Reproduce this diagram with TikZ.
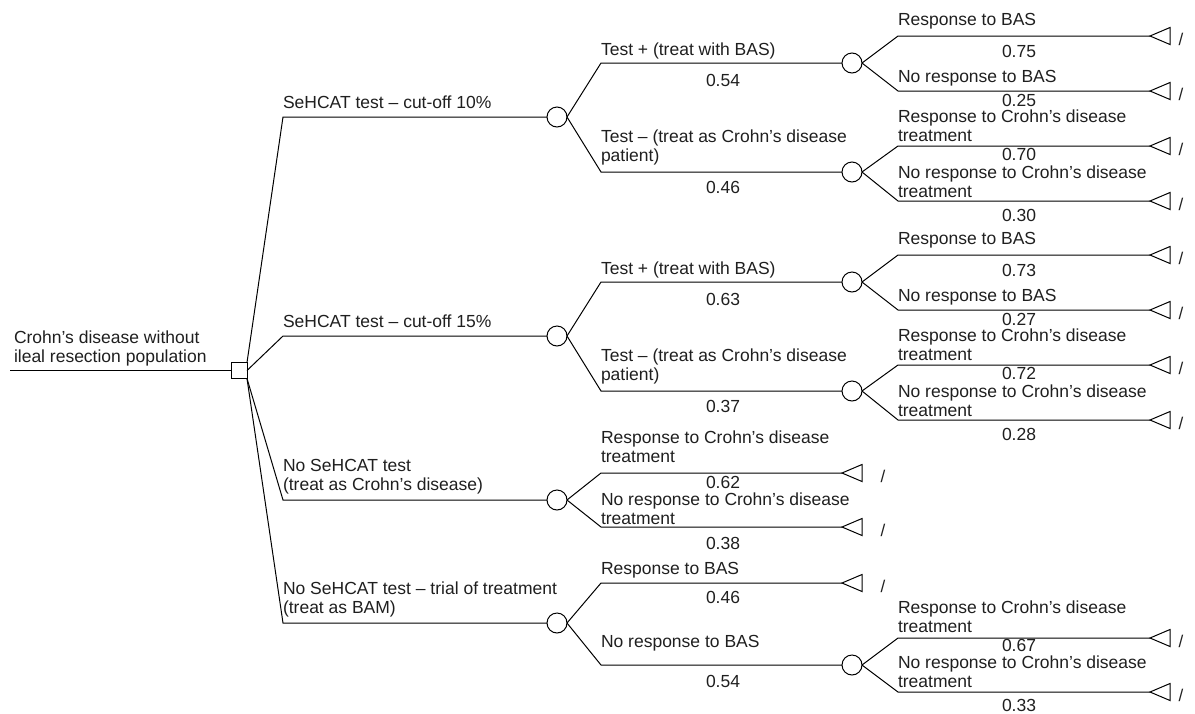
\documentclass[tikz,border=0pt]{standalone}
\usepackage{fontspec}
\setmainfont{Liberation Sans}
\newcommand\twoline[2]{\begin{tabular}[t]{@{}l@{}}#1\\#2\end{tabular}}
\tikzset{
  lbl/.style={anchor=base west, inner sep=0pt, outer sep=0pt, text=black!88,
    font=\fontsize{17.5}{19}\selectfont},
  prob/.style={lbl},
  slashlbl/.style={anchor=base west, inner sep=0pt, text=black!88,
    font=\fontsize{17}{19}\selectfont},
  chance/.style={circle, draw, minimum size=20pt, inner sep=0pt, outer sep=0pt},
  decision/.style={rectangle, draw, minimum size=16pt, inner sep=0pt, outer sep=0pt},
  term/.pic={\draw (0,0) -- (20,-8.5) -- (20,8.5) -- cycle;}
}
\begin{document}
\begin{tikzpicture}[x=1pt,y=-1pt,line width=1pt]
\useasboundingbox (0,0) rectangle (1195,713);

% root
\coordinate (r0) at (10,370.5);
\node[decision] (sq) at (239,370.5) {};
\draw (r0) -- (sq);
\node[lbl] (rootlbl) at (14,343) {\twoline{Crohn’s disease without}{ileal resection population}};

% level 1 chance nodes
\node[chance] (c1) at (557,117) {};
\node[chance] (c2) at (557,336) {};
\node[chance] (c3) at (557,500) {};
\node[chance] (c4) at (557,623) {};
\draw (sq.north east) -- (283,117) -- (c1);
\draw (sq.east) -- (283,336) -- (c2);
\draw (sq.south east) -- (283,500) -- (c3);
\draw (sq.south east) -- (283,623) -- (c4);
\node[lbl] (l1) at (283,108) {SeHCAT test – cut-off 10\%};
\node[lbl] (l2) at (283,327) {SeHCAT test – cut-off 15\%};
\node[lbl] (l3) at (283,471) {\twoline{No SeHCAT test}{(treat as Crohn’s disease)}};
\node[lbl] (l4) at (283,594) {\twoline{No SeHCAT test – trial of treatment}{(treat as BAM)}};

% ---------- group 1 ----------
\node[chance] (c11) at (852,63) {};
\node[chance] (c12) at (852,172) {};
\draw (c1.east) -- (601,63) -- (c11);
\draw (c1.east) -- (601,172) -- (c12);
\node[lbl] (g1a) at (601,55) {Test + (treat with BAS)};
\node[prob] (p1a) at (706,86) {0.54};
\node[lbl] (g1b) at (601,142) {\twoline{Test – (treat as Crohn’s disease}{patient)}};
\node[prob] (p1b) at (706,193) {0.46};

\coordinate (t111) at (1150,36);
\coordinate (t112) at (1150,91);
\coordinate (t121) at (1150,146);
\coordinate (t122) at (1150,201);
\draw (c11.east) -- (898,36) -- (t111);
\draw (c11.east) -- (898,91) -- (t112);
\draw (c12.east) -- (898,146) -- (t121);
\draw (c12.east) -- (898,201) -- (t122);
\pic at (t111) {term}; \pic at (t112) {term};
\pic at (t121) {term}; \pic at (t122) {term};
\node[slashlbl] (s111) at (1178,45) {/};
\node[slashlbl] (s112) at (1178,100) {/};
\node[slashlbl] (s121) at (1178,155) {/};
\node[slashlbl] (s122) at (1178,210) {/};
\node[lbl] (e111) at (898,25) {Response to BAS};
\node[prob] (q111) at (1002,57) {0.75};
\node[lbl] (e112) at (898,82) {No response to BAS};
\node[prob] (q112) at (1002,106) {0.25};
\node[lbl] (e121) at (898,122) {\twoline{Response to Crohn’s disease}{treatment}};
\node[prob] (q121) at (1002,160) {0.70};
\node[lbl] (e122) at (898,178) {\twoline{No response to Crohn’s disease}{treatment}};
\node[prob] (q122) at (1002,221) {0.30};

% ---------- group 2 ----------
\node[chance] (c21) at (852,282) {};
\node[chance] (c22) at (852,391) {};
\draw (c2.east) -- (601,282) -- (c21);
\draw (c2.east) -- (601,391) -- (c22);
\node[lbl] (g2a) at (601,274) {Test + (treat with BAS)};
\node[prob] (p2a) at (706,305) {0.63};
\node[lbl] (g2b) at (601,361) {\twoline{Test – (treat as Crohn’s disease}{patient)}};
\node[prob] (p2b) at (706,412) {0.37};

\coordinate (t211) at (1150,255);
\coordinate (t212) at (1150,310);
\coordinate (t221) at (1150,365);
\coordinate (t222) at (1150,420);
\draw (c21.east) -- (898,255) -- (t211);
\draw (c21.east) -- (898,310) -- (t212);
\draw (c22.east) -- (898,365) -- (t221);
\draw (c22.east) -- (898,420) -- (t222);
\pic at (t211) {term}; \pic at (t212) {term};
\pic at (t221) {term}; \pic at (t222) {term};
\node[slashlbl] (s211) at (1178,264) {/};
\node[slashlbl] (s212) at (1178,319) {/};
\node[slashlbl] (s221) at (1178,374) {/};
\node[slashlbl] (s222) at (1178,429) {/};
\node[lbl] (e211) at (898,244) {Response to BAS};
\node[prob] (q211) at (1002,276) {0.73};
\node[lbl] (e212) at (898,301) {No response to BAS};
\node[prob] (q212) at (1002,325) {0.27};
\node[lbl] (e221) at (898,341) {\twoline{Response to Crohn’s disease}{treatment}};
\node[prob] (q221) at (1002,379) {0.72};
\node[lbl] (e222) at (898,397) {\twoline{No response to Crohn’s disease}{treatment}};
\node[prob] (q222) at (1002,440) {0.28};

% ---------- group 3 ----------
\coordinate (t31) at (842,473);
\coordinate (t32) at (842,527);
\draw (c3.east) -- (601,473) -- (t31);
\draw (c3.east) -- (601,527) -- (t32);
\pic at (t31) {term}; \pic at (t32) {term};
\node[slashlbl] (s31) at (880,482) {/};
\node[slashlbl] (s32) at (880,536) {/};
\node[lbl] (g3a) at (601,443) {\twoline{Response to Crohn’s disease}{treatment}};
\node[prob] (p3a) at (706,488) {0.62};
\node[lbl] (g3b) at (601,505) {\twoline{No response to Crohn’s disease}{treatment}};
\node[prob] (p3b) at (706,549) {0.38};

% ---------- group 4 ----------
\coordinate (t41) at (842,583);
\node[chance] (c41) at (852,665) {};
\draw (c4.east) -- (601,583) -- (t41);
\draw (c4.east) -- (601,665) -- (c41);
\pic at (t41) {term};
\node[slashlbl] (s41) at (880,592) {/};
\node[lbl] (g4a) at (601,574) {Response to BAS};
\node[prob] (p4a) at (706,603) {0.46};
\node[lbl] (g4b) at (601,647) {No response to BAS};
\node[prob] (p4b) at (706,687) {0.54};

\coordinate (t411) at (1150,638);
\coordinate (t412) at (1150,692);
\draw (c41.east) -- (898,638) -- (t411);
\draw (c41.east) -- (898,692) -- (t412);
\pic at (t411) {term}; \pic at (t412) {term};
\node[slashlbl] (s411) at (1178,647) {/};
\node[slashlbl] (s412) at (1178,701) {/};
\node[lbl] (e411) at (898,613) {\twoline{Response to Crohn’s disease}{treatment}};
\node[prob] (q411) at (1002,651) {0.67};
\node[lbl] (e412) at (898,668) {\twoline{No response to Crohn’s disease}{treatment}};
\node[prob] (q412) at (1002,711) {0.33};
\end{tikzpicture}
\end{document}
